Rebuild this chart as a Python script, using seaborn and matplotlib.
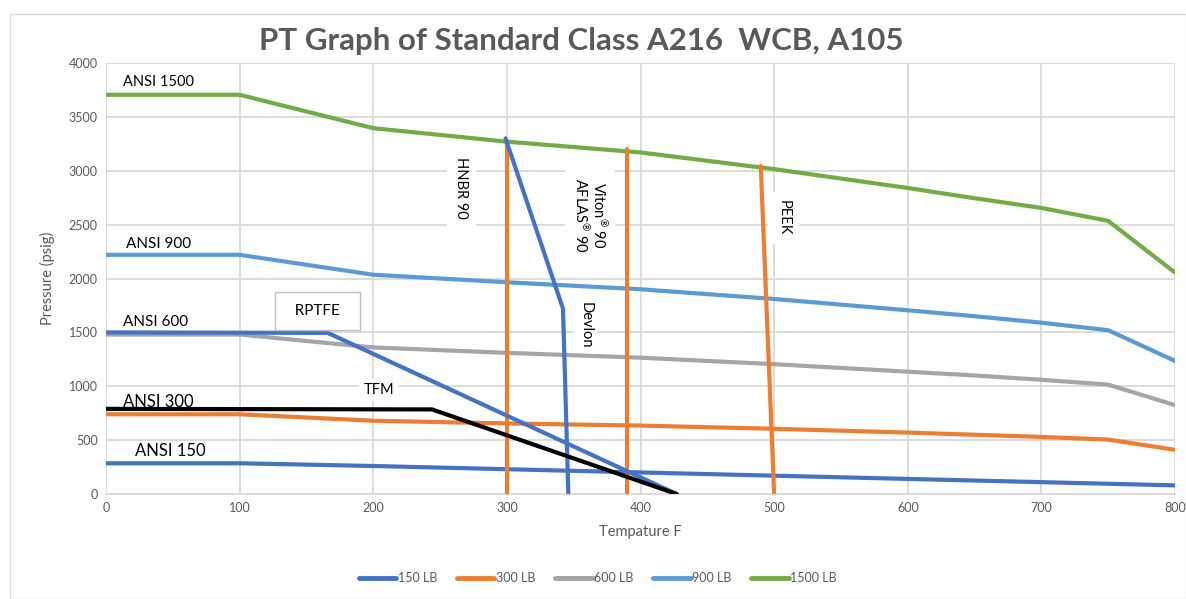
import numpy as np
import pandas as pd
import matplotlib
matplotlib.use("Agg")
import matplotlib.pyplot as plt
import seaborn as sns

# ---- data ----
temps = [0, 100, 200, 300, 400, 500, 600, 650, 700, 750, 800]
p150 = [285, 285, 260, 230, 200, 170, 140, 125, 110, 95, 80]
p300 = [740, 740, 680, 655, 635, 605, 570, 550, 530, 505, 410]
p600 = [1480, 1480, 1360, 1310, 1265, 1205, 1135, 1100, 1060, 1015, 825]
p900 = [2220, 2220, 2035, 1965, 1900, 1810, 1705, 1650, 1590, 1520, 1235]
p1500 = [3705, 3705, 3395, 3270, 3170, 3015, 2840, 2745, 2655, 2535, 2055]
series_names = ["150 LB", "300 LB", "600 LB", "900 LB", "1500 LB"]
series_colors = ["#4472C4", "#ED7D31", "#A5A5A5", "#5B9BD5", "#70AD47"]

# material limit lines (temperature, pressure)
hnbr_t = [300, 300]; hnbr_p = [3275, 0]
viton_t = [390, 390]; viton_p = [3200, 0]
peek_t = [490, 500]; peek_p = [3045, 0]
devlon_t = [299, 342, 346]; devlon_p = [3300, 1720, 0]
rptfe_t = [0, 166, 427]; rptfe_p = [1500, 1495, 0]
tfm_t = [0, 244, 427]; tfm_p = [790, 785, 0]

df = pd.DataFrame({
    "Temp": temps * 5,
    "Pressure": p150 + p300 + p600 + p900 + p1500,
    "Class": sum([[n] * len(temps) for n in series_names], []),
})

sns.set_theme(style="white")
plt.rcParams["font.family"] = ["Lato", "DejaVu Sans"]
plt.rcParams["mathtext.fontset"] = "custom"
plt.rcParams["mathtext.rm"] = "Lato"
plt.rcParams["mathtext.it"] = "Lato"

fig = plt.figure(figsize=(11.86, 5.99), dpi=100)
ax = fig.add_axes([106/1186, 105/599, (1175-106)/1186, (494-63)/599])

lw = 3.0
sns.lineplot(data=df, x="Temp", y="Pressure", hue="Class", hue_order=series_names,
             palette=series_colors, linewidth=lw, ax=ax, legend=True,
             solid_capstyle="round", zorder=3)

def seg(t, p, color):
    sns.lineplot(x=t, y=p, sort=False, estimator=None, color=color, linewidth=lw, ax=ax,
                 legend=False, solid_capstyle="round", zorder=4)

seg(hnbr_t, hnbr_p, "#ED7D31")
seg(viton_t, viton_p, "#ED7D31")
seg(peek_t, peek_p, "#ED7D31")
seg(devlon_t, devlon_p, "#4472C4")
seg(rptfe_t, rptfe_p, "#4472C4")
seg(tfm_t, tfm_p, "#000000")

ax.set_xlim(0, 800)
ax.set_ylim(0, 4000)
ax.set_xticks(range(0, 801, 100))
ax.set_yticks(range(0, 4001, 500))
ax.grid(True, color="#D9D9D9", linewidth=1.3, zorder=0)
ax.set_axisbelow(True)
for s in ["top", "right", "left"]:
    ax.spines[s].set_visible(False)
ax.spines["bottom"].set_color("#D9D9D9")
ax.spines["bottom"].set_linewidth(1.3)
ax.tick_params(axis="both", colors="#595959", labelsize=9, length=0, pad=6)
ax.set_xlabel("Tempature F", color="#595959", fontsize=10.5, labelpad=8)
ax.set_ylabel("Pressure (psig)", color="#595959", fontsize=10.5, labelpad=10)

fig.text(0.49, 0.932, "PT Graph of Standard Class A216  WCB, A105", ha="center", va="center",
         fontsize=22.5, fontweight="bold", color="#595959")

# text labels
lab = dict(color="#000000", zorder=6)
ax.text(13, 3824, "ANSI 1500", fontsize=10.5, va="center", ha="left", **lab)
ax.text(15, 2320, "ANSI 900", fontsize=11, va="center", ha="left", **lab)
ax.text(13, 1596, "ANSI 600", fontsize=11, va="center", ha="left", **lab)
ax.text(13, 850, "ANSI 300", fontsize=12, va="center", ha="left", **lab)
ax.text(22, 399, "ANSI 150", fontsize=12, va="center", ha="left", **lab)
ax.text(158, 1698, "  RPTFE  ", fontsize=11, va="center", ha="center",
        bbox=dict(boxstyle="square,pad=0.8", fc="white", ec="#BFBFBF", lw=1), **lab)
ax.text(204, 965, "TFM", fontsize=10.5, va="center", ha="center",
        bbox=dict(boxstyle="square,pad=0.3", fc="white", ec="none"), **lab)
ax.text(266, 2840, "HNBR 90", fontsize=10.5, va="center", ha="center", rotation=-90,
        bbox=dict(boxstyle="square,pad=0.5", fc="white", ec="none"), **lab)
ax.text(362, 2589, "Viton$^{\u00ae}$ 90\nAFLAS$^{\u00ae}$ 90", fontsize=10.5, va="center",
        ha="center", rotation=-90, linespacing=1.0,
        bbox=dict(boxstyle="square,pad=0.5", fc="white", ec="none"), **lab)
ax.text(359, 1568, "Devlon", fontsize=10.5, va="center", ha="center", rotation=-90,
        bbox=dict(boxstyle="square,pad=0.3", fc="white", ec="none"), **lab)
ax.text(507, 2561, "PEEK", fontsize=10.5, va="center", ha="center", rotation=-90,
        bbox=dict(boxstyle="square,pad=0.6", fc="white", ec="none"), **lab)

# legend
leg = ax.legend(loc="center", bbox_to_anchor=(0.46, -0.195), ncol=5, frameon=False,
                fontsize=9, handlelength=3.0, handletextpad=0.1, columnspacing=1.6)
for t in leg.get_texts():
    t.set_color("#595959")
for h in leg.legend_handles:
    h.set_linewidth(3.5)
    h.set_solid_capstyle("round")

# outer chart frame
fig.patches.append(plt.Rectangle((10/1186, 0), 1 - 10/1186, 1 - 14/599, transform=fig.transFigure,
                                 fill=False, ec="#D9D9D9", lw=1))

fig.savefig("out.png", dpi=100)
